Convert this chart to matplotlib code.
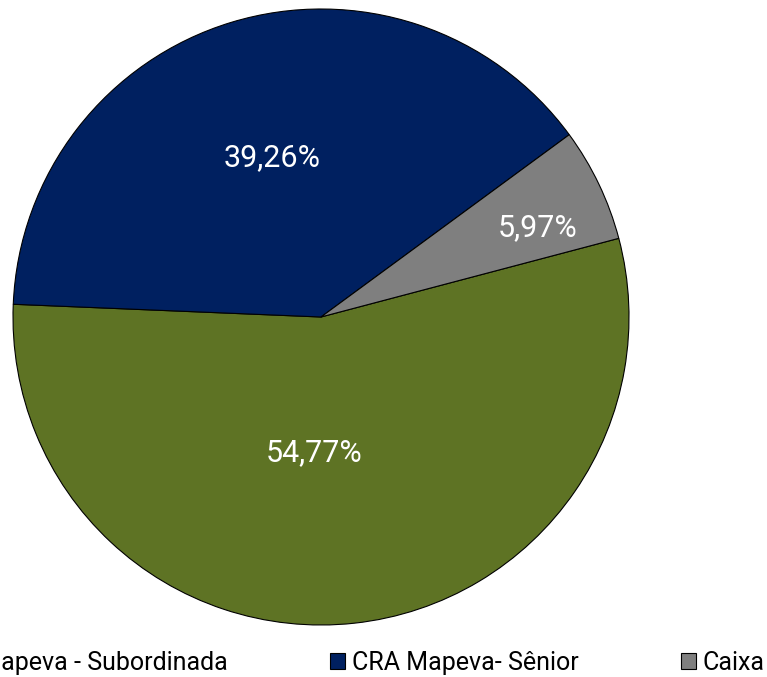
import matplotlib
matplotlib.use("Agg")
import matplotlib.pyplot as plt
import numpy as np

plt.rcParams['font.family'] = ['Roboto', 'DejaVu Sans']

# dados da carteira
labels = ["CRA Mapeva - Subordinada", "CRA Mapeva- Sênior", "Caixa"]
values = [54.77, 39.26, 5.97]
value_texts = ["54,77%", "39,26%", "5,97%"]
colors = ["#5E7324", "#002060", "#7F7F7F"]

# posição dos rótulos (fração do raio, ajuste de ângulo em graus)
LABEL_R = [0.44, 0.54, 0.76]
LABEL_DANG = [-9, 0, -3]

W, H = 767, 677
fig = plt.figure(figsize=(W / 100, H / 100), dpi=100)
ax = fig.add_axes([13 / W, (H - 625) / H, 616 / W, 616 / H])

wedges, _ = ax.pie(values, colors=colors, startangle=14.8, counterclock=False,
                   wedgeprops=dict(edgecolor="black", linewidth=0.8))
ax.set_xlim(-1, 1)
ax.set_ylim(-1, 1)
ax.set_aspect("auto")
ax.axis("off")

for w, txt, r, da in zip(wedges, value_texts, LABEL_R, LABEL_DANG):
    ang = np.deg2rad((w.theta1 + w.theta2) / 2 + da)
    ax.text(r * np.cos(ang), r * np.sin(ang), txt, color="white",
            fontsize=22, ha="center", va="center")

fig.legend(wedges, labels, ncol=3, frameon=False, fontsize=18,
           loc="center right", bbox_to_anchor=(764 / W, (H - 663) / H),
           bbox_transform=fig.transFigure, borderpad=0, borderaxespad=0,
           handlelength=0.6, handleheight=0.6, handletextpad=0.25,
           columnspacing=4.1)

fig.savefig("out.png", dpi=100)
